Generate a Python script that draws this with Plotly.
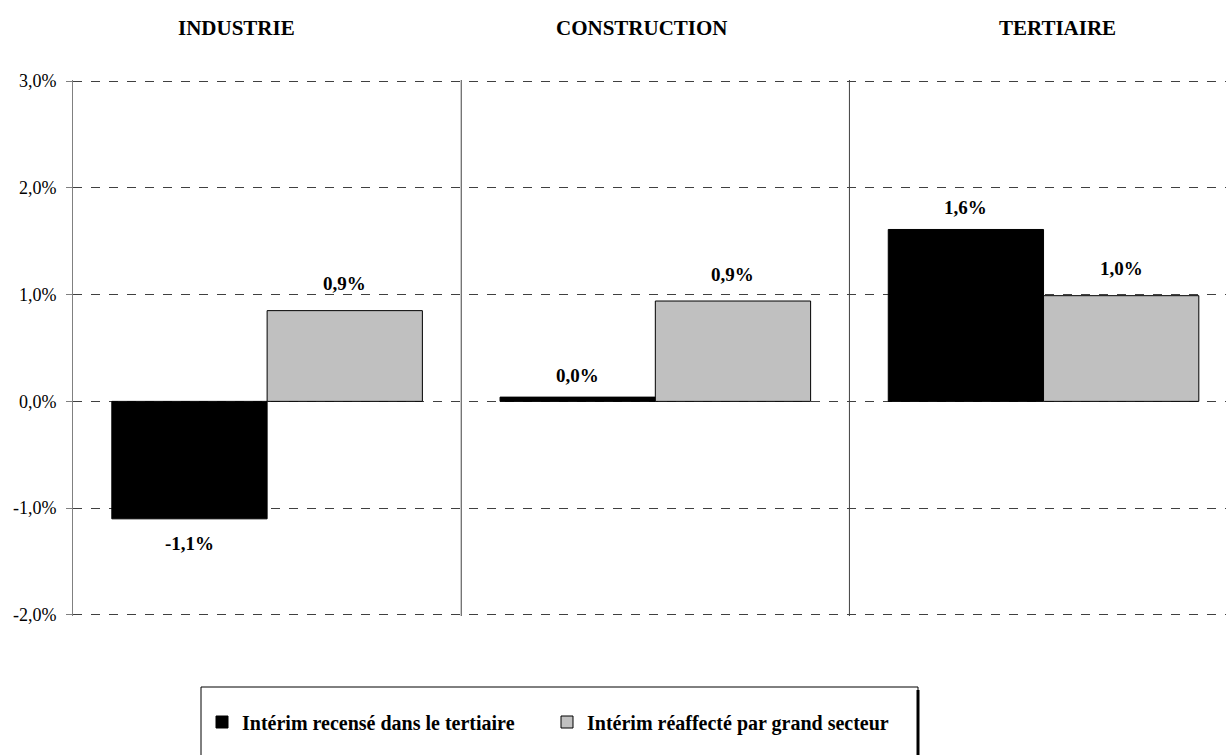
import plotly.graph_objects as go

categories = ["INDUSTRIE", "CONSTRUCTION", "TERTIAIRE"]
series_names = ["Intérim recensé dans le tertiaire", "Intérim réaffecté par grand secteur"]
values_recense = [-1.1, 0.04, 1.61]
values_reaffecte = [0.85, 0.94, 0.99]
labels_recense = ["-1,1%", "0,0%", "1,6%"]
labels_reaffecte = ["0,9%", "0,9%", "1,0%"]
y_ticks = [-2, -1, 0, 1, 2, 3]
y_tick_labels = ["-2,0%", "-1,0%", "0,0%", "1,0%", "2,0%", "3,0%"]

W, H = 1226, 755
ML, MR, MT, MB = 73, 0, 80, 139
serif = "Liberation Serif"
bold_font = "Liberation Serif"

fig = go.Figure()
fig.add_trace(go.Bar(
    x=categories, y=values_recense, name=series_names[0],
    marker=dict(color="#000000", line=dict(color="#000000", width=1)),
    legend="legend",
))
fig.add_trace(go.Bar(
    x=categories, y=values_reaffecte, name=series_names[1],
    marker=dict(color="#C0C0C0", line=dict(color="#000000", width=1)),
    legend="legend2",
))

# data labels
for i, (v, t) in enumerate(zip(values_recense, labels_recense)):
    fig.add_annotation(x=i - 0.2, y=v, text="<b>%s</b>" % t, showarrow=False,
                       yshift=22 if v >= 0 else -25,
                       font=dict(family=bold_font, size=19, color="#000"))
for i, (v, t) in enumerate(zip(values_reaffecte, labels_reaffecte)):
    fig.add_annotation(x=i + 0.2, y=v, text="<b>%s</b>" % t, showarrow=False,
                       yshift=27 if v >= 0 else -25,
                       font=dict(family=bold_font, size=19, color="#000"))

# category titles at top
title_shifts = [-31, -13, 14]
for i, (c, s) in enumerate(zip(categories, title_shifts)):
    fig.add_annotation(x=i, y=1, yref="paper", text="<b>%s</b>" % c, showarrow=False,
                       xshift=s, yshift=66, font=dict(family=bold_font, size=21, color="#000"))

# category separators
for b in [0.5, 1.5]:
    fig.add_shape(type="line", x0=b, x1=b, y0=0, y1=1, xref="x", yref="paper",
                  line=dict(color="#404040", width=1), layer="above")

# legend box (with shadow on right)
ph = H - MT - MB
def py(Y):
    return (H - MB - Y) / ph
def px(X):
    return (X - ML) / (W - ML - MR)
fig.add_shape(type="rect", xref="paper", yref="paper",
              x0=px(201), x1=px(918), y0=py(687), y1=py(770),
              line=dict(color="#000", width=1), fillcolor="rgba(0,0,0,0)")
fig.add_shape(type="line", xref="paper", yref="paper",
              x0=px(918), x1=px(918), y0=py(690), y1=py(770),
              line=dict(color="#000", width=3))

legend_common = dict(orientation="h", yanchor="middle", xanchor="left",
                     font=dict(family=bold_font, size=20, color="#000", weight="bold"),
                     itemwidth=30, bgcolor="rgba(0,0,0,0)")

fig.update_layout(
    width=W, height=H,
    margin=dict(l=ML, r=MR, t=MT, b=MB, pad=0),
    paper_bgcolor="white", plot_bgcolor="white",
    barmode="group", bargap=0.2, bargroupgap=0,
    showlegend=True,
    legend=dict(x=px(202), y=py(722), **legend_common),
    legend2=dict(x=px(547), y=py(722), **legend_common),
    xaxis=dict(range=[-0.5, 2.47], showticklabels=False, showgrid=False, zeroline=False,
               showline=False, ticks=""),
    yaxis=dict(range=[-2.01, 3.01], tickvals=y_ticks, ticktext=y_tick_labels,
               showgrid=True, gridcolor="#404040", griddash="dash", gridwidth=1,
               zeroline=False, showline=True, linecolor="#808080", linewidth=1,
               ticks="outside", ticklen=6, tickcolor="#808080", ticklabelstandoff=6,
               tickfont=dict(family=serif, size=18, color="#000")),
    font=dict(family=serif, color="#000"),
)

fig.write_html("out.html", config={"displayModeBar": False},
               post_script="document.body.style.margin='0';document.body.style.padding='0';")
